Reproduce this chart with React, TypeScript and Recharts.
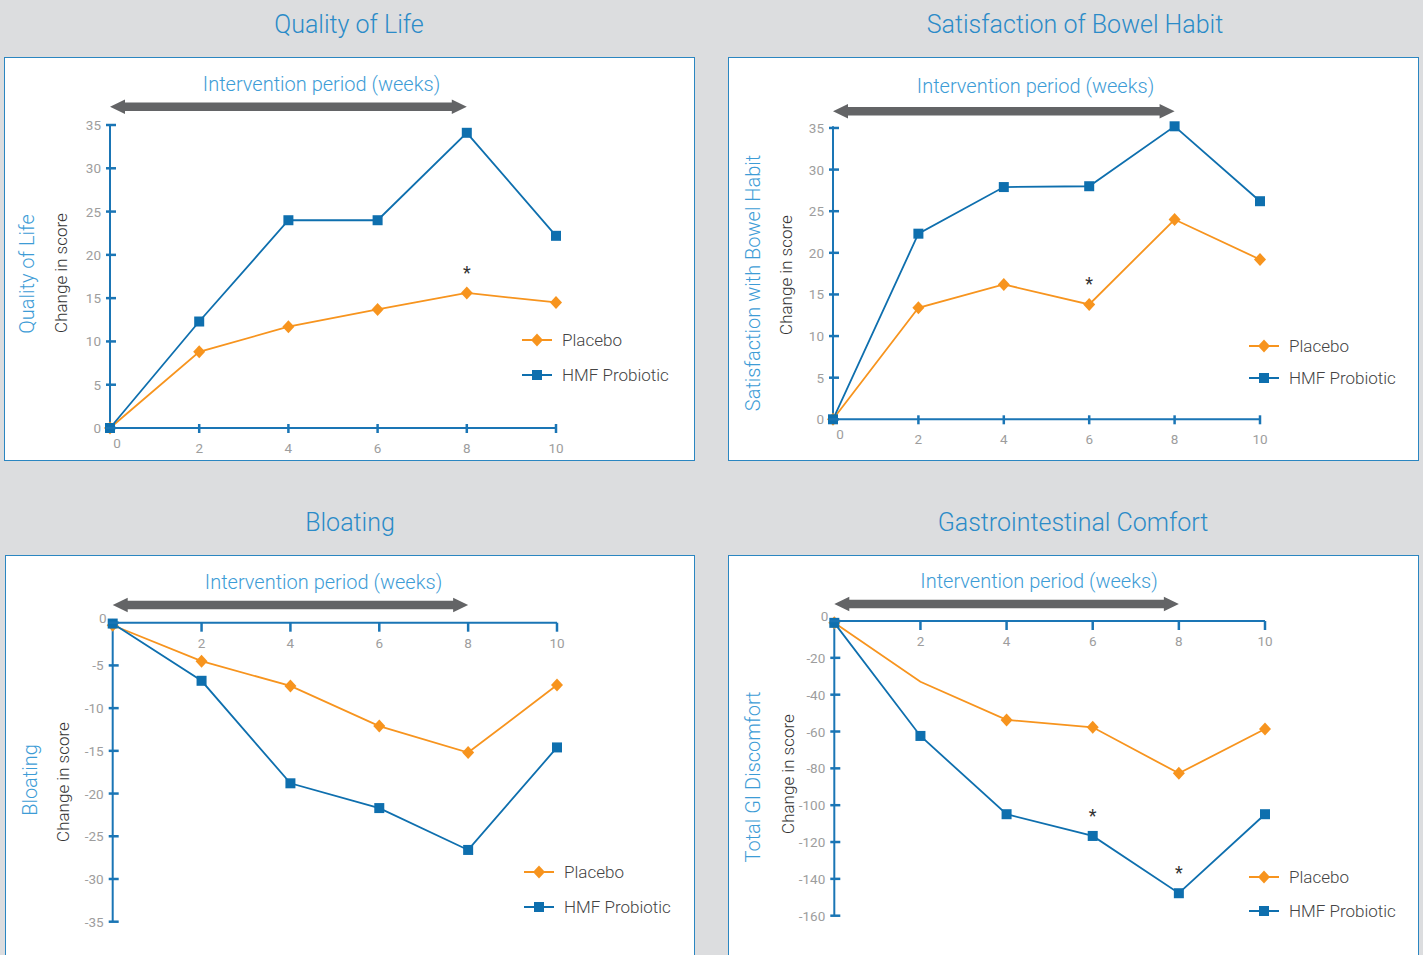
import React from 'react';
import { LineChart, Line, XAxis, YAxis, ReferenceLine, ReferenceDot, Legend } from 'recharts';

// weeks of the study
const weeks = [0, 2, 4, 6, 8, 10];

// Quality of Life
const qolPlacebo = [0, 8.8, 11.7, 13.7, 15.6, 14.5];
const qolHmf = [0, 12.3, 24.0, 24.0, 34.1, 22.2];
const qolTicks = [0, 5, 10, 15, 20, 25, 30, 35];
const qolStarWeeks = [8];

// Satisfaction of Bowel Habit
const bowelPlacebo = [0, 13.4, 16.2, 13.8, 24.0, 19.2];
const bowelHmf = [0, 22.3, 27.9, 28.0, 35.2, 26.2];
const bowelTicks = [0, 5, 10, 15, 20, 25, 30, 35];
const bowelStarWeeks = [6];

// Bloating
const bloatPlacebo = [-0.3, -4.5, -7.4, -12.1, -15.2, -7.3];
const bloatHmf = [-0.1, -6.8, -18.8, -21.7, -26.6, -14.6];
const bloatTicks = [0, -5, -10, -15, -20, -25, -30, -35];

// Gastrointestinal Comfort
const giPlacebo = [-1, -33, -53.7, -57.7, -82.7, -58.6];
const giHmf = [-1, -62.4, -104.9, -116.7, -147.8, -104.9];
const giTicks = [0, -20, -40, -60, -80, -100, -120, -140, -160];
const giStarWeeks = [6, 8];

const periodWeeks = [0, 8];
const seriesOrder = ['placebo', 'hmf'];
const seriesNames = { placebo: 'Placebo', hmf: 'HMF Probiotic' };

const FONT = 'Roboto, "Noto Sans", sans-serif';
const BG = '#dcdddf';
const BORDER = '#2b86c1';
const AXIS = '#1a75b5';
const BLUE = '#0e6fae';
const ORANGE = '#f7941e';
const TITLE = '#2b8bc8';
const LIGHT = '#3d9cd6';
const ARROW = '#636466';
const TICK_TXT = '#9d9d9d';

const Y_W = 40; // y axis box width
const X_H = 30; // x axis box height

type Rect = { l: number; t: number; r: number; b: number };

interface PanelProps {
  title: string;
  yLabel: string;
  placebo: number[];
  hmf: number[];
  yTicks: number[];
  arrowAt: number;
  stars?: { series: 'placebo' | 'hmf'; weeks: number[] };
  hidePlacebo?: number[];
  axisTop?: boolean;
  box: Rect;
  plot: Rect;
  titlePos: [number, number];
  periodPos: [number, number];
  yLabelPos: [number, number];
  changePos: [number, number];
  legendPos: [number, number, number];
}

const arrowShape = (p: any) => {
  const { x1, y1, x2 } = p;
  const h = 7.2, t = 4.3, L = 15;
  const d = `M${x1},${y1} L${x1 + L},${y1 - h} L${x1 + L},${y1 - t} L${x2 - L},${y1 - t} L${x2 - L},${y1 - h} L${x2},${y1} L${x2 - L},${y1 + h} L${x2 - L},${y1 + t} L${x1 + L},${y1 + t} L${x1 + L},${y1 + h} Z`;
  return <path d={d} fill={ARROW} />;
};

const starShape = (p: any) => (
  <text x={p.cx} y={p.cy - 14} textAnchor="middle" fontSize={18} fill="#333" fontFamily={FONT}>*</text>
);

const tickText = (x: number, y: number, v: number, anchor: 'middle' | 'end' = 'middle') => (
  <text x={x} y={y} textAnchor={anchor} dominantBaseline="central" fontSize={13.5} fill={TICK_TXT} fontFamily={FONT}>{v}</text>
);

const makeXTick = (axisTop: boolean) => (p: any) => {
  const { x, y, payload } = p;
  const v = payload.value;
  if (axisTop) {
    if (v === 0) return <g />;
    return (
      <g>
        <line x1={x} x2={x} y1={y} y2={y + 9} stroke={AXIS} strokeWidth={2.5} />
        {tickText(x, y + 20, v)}
      </g>
    );
  }
  if (v === 0) return tickText(x + 7, y + 15, v);
  return (
    <g>
      <line x1={x} x2={x} y1={y - 4} y2={y + 5} stroke={AXIS} strokeWidth={2.5} />
      {tickText(x, y + 20, v)}
    </g>
  );
};

const makeYTick = (axisTop: boolean) => (p: any) => {
  const { x, y, payload } = p;
  const v = payload.value;
  const shift = axisTop && v === 0;
  return (
    <g>
      <line x1={x - 4} x2={x + 6} y1={y} y2={y} stroke={AXIS} strokeWidth={2.5} />
      {tickText(shift ? x - 6 : x - 9, shift ? y - 5 : y, v, 'end')}
    </g>
  );
};

const makeDiamond = (hide: number[]) => (p: any) => {
  const { cx, cy, index } = p;
  if (hide.includes(index) || cx == null) return <g key={`d${index}`} />;
  return <path key={`d${index}`} d={`M${cx},${cy - 6.5}L${cx + 6},${cy}L${cx},${cy + 6.5}L${cx - 6},${cy}Z`} fill={ORANGE} />;
};

const square = (p: any) => (
  <rect key={`s${p.index}`} x={p.cx - 5} y={p.cy - 5} width={10} height={10} fill={BLUE} />
);

const makeLegend = (gap: number) => (props: any) => {
  const items = [...(props.payload || [])].sort(
    (a: any, b: any) => seriesOrder.indexOf(a.dataKey) - seriesOrder.indexOf(b.dataKey)
  );
  return (
    <div style={{ fontFamily: FONT }}>
      {items.map((e: any) => (
        <div key={e.value} style={{ display: 'flex', alignItems: 'center', height: gap }}>
          <svg width={30} height={14} style={{ display: 'block' }}>
            <line x1={0} y1={7} x2={30} y2={7} stroke={e.color} strokeWidth={2} />
            {e.dataKey === 'placebo'
              ? <path d="M15,0.5L21,7L15,13.5L9,7Z" fill={ORANGE} />
              : <rect x={10} y={2} width={10} height={10} fill={BLUE} />}
          </svg>
          <span style={{ marginLeft: 10, fontSize: 17, fontWeight: 300, color: '#444', whiteSpace: 'nowrap' }}>{e.value}</span>
        </div>
      ))}
    </div>
  );
};

const centered = (pos: [number, number], extra: React.CSSProperties, rotate = false): React.CSSProperties => ({
  position: 'absolute',
  left: pos[0],
  top: pos[1],
  transform: `translate(-50%, -50%)${rotate ? ' rotate(-90deg)' : ''}`,
  whiteSpace: 'nowrap',
  fontFamily: FONT,
  lineHeight: 1,
  ...extra,
});

function Panel(props: PanelProps) {
  const { box, plot, axisTop = false, stars, hidePlacebo = [] } = props;
  const data = weeks.map((w, i) => ({ week: w, placebo: props.placebo[i], hmf: props.hmf[i] }));
  const w = box.r - box.l;
  const h = box.b - box.t;
  const yMin = Math.min(...props.yTicks);
  const yMax = Math.max(...props.yTicks);
  const gap = props.legendPos[2];
  const margin = {
    left: plot.l - box.l - Y_W,
    right: box.r - plot.r,
    top: plot.t - box.t - (axisTop ? X_H : 0),
    bottom: box.b - plot.b - (axisTop ? 0 : X_H),
  };

  return (
    <>
      <div style={centered(props.titlePos, { fontSize: 25, color: TITLE, fontWeight: 300 })}>{props.title}</div>
      <div style={{ position: 'absolute', left: box.l, top: box.t, width: w, height: h, boxSizing: 'border-box', border: `1.5px solid ${BORDER}`, background: '#fff' }} />
      <div style={centered(props.periodPos, { fontSize: 20, fontWeight: 300, color: LIGHT })}>Intervention period (weeks)</div>
      <div style={centered(props.yLabelPos, { fontSize: 20, fontWeight: 300, color: LIGHT }, true)}>{props.yLabel}</div>
      <div style={centered(props.changePos, { fontSize: 17, fontWeight: 300, color: '#333' }, true)}>Change in score</div>
      <div style={{ position: 'absolute', left: box.l, top: box.t }}>
        <LineChart width={w} height={h} data={data} margin={margin}>
          <XAxis
            dataKey="week"
            type="number"
            domain={[0, 10]}
            ticks={weeks}
            interval={0}
            orientation={axisTop ? 'top' : 'bottom'}
            height={X_H}
            tickSize={0}
            tickMargin={0}
            axisLine={{ stroke: AXIS, strokeWidth: 2 }}
            tick={makeXTick(axisTop)}
          />
          <YAxis
            type="number"
            domain={[yMin, yMax]}
            ticks={props.yTicks}
            interval={0}
            width={Y_W}
            tickSize={0}
            tickMargin={0}
            axisLine={{ stroke: AXIS, strokeWidth: 2 }}
            tick={makeYTick(axisTop)}
          />
          <ReferenceLine
            segment={[{ x: periodWeeks[0], y: props.arrowAt }, { x: periodWeeks[1], y: props.arrowAt }]}
            ifOverflow="visible"
            shape={arrowShape}
          />
          <Line
            dataKey="placebo"
            name={seriesNames.placebo}
            stroke={ORANGE}
            strokeWidth={1.8}
            dot={makeDiamond(hidePlacebo)}
            activeDot={false}
            isAnimationActive={false}
          />
          <Line
            dataKey="hmf"
            name={seriesNames.hmf}
            stroke={BLUE}
            strokeWidth={1.8}
            dot={square}
            activeDot={false}
            isAnimationActive={false}
          />
          {stars && stars.weeks.map((wk) => {
            const src = stars.series === 'placebo' ? props.placebo : props.hmf;
            return (
              <ReferenceDot
                key={wk}
                x={wk}
                y={src[weeks.indexOf(wk)]}
                ifOverflow="visible"
                shape={starShape}
              />
            );
          })}
          <Legend
            layout="vertical"
            align="center"
            verticalAlign="middle"
            wrapperStyle={{ left: props.legendPos[0] - box.l, top: props.legendPos[1] - gap / 2 - box.t, width: 170 }}
            content={makeLegend(gap)}
          />
        </LineChart>
      </div>
    </>
  );
}

export default function App() {
  return (
    <div style={{ position: 'absolute', left: 0, top: 0, width: 1423, height: 955, background: BG, overflow: 'hidden', fontFamily: FONT }}>
      <Panel
        title="Quality of Life"
        yLabel="Quality of Life"
        placebo={qolPlacebo}
        hmf={qolHmf}
        yTicks={qolTicks}
        arrowAt={37.1}
        stars={{ series: 'placebo', weeks: qolStarWeeks }}
        box={{ l: 4, t: 57, r: 695, b: 461 }}
        plot={{ l: 110, t: 125, r: 556, b: 428 }}
        titlePos={[349, 24]}
        periodPos={[321.5, 84]}
        yLabelPos={[27, 274]}
        changePos={[61, 273]}
        legendPos={[522, 340, 35]}
      />
      <Panel
        title="Satisfaction of Bowel Habit"
        yLabel="Satisfaction with Bowel Habit"
        placebo={bowelPlacebo}
        hmf={bowelHmf}
        yTicks={bowelTicks}
        arrowAt={37.0}
        stars={{ series: 'placebo', weeks: bowelStarWeeks }}
        box={{ l: 728, t: 57, r: 1419, b: 461 }}
        plot={{ l: 833, t: 126.3, r: 1260, b: 419.3 }}
        titlePos={[1075, 24]}
        periodPos={[1035.5, 86]}
        yLabelPos={[752.5, 283]}
        changePos={[786, 275]}
        legendPos={[1249, 345.7, 32]}
      />
      <Panel
        title="Bloating"
        yLabel="Bloating"
        placebo={bloatPlacebo}
        hmf={bloatHmf}
        yTicks={bloatTicks}
        arrowAt={2.07}
        axisTop
        box={{ l: 5, t: 555, r: 695, b: 965 }}
        plot={{ l: 112.7, t: 622.7, r: 557, b: 921.7 }}
        titlePos={[350, 522]}
        periodPos={[323.5, 582]}
        yLabelPos={[30, 780]}
        changePos={[62.5, 781.7]}
        legendPos={[524, 872.3, 35]}
      />
      <Panel
        title="Gastrointestinal Comfort"
        yLabel="Total GI Discomfort"
        placebo={giPlacebo}
        hmf={giHmf}
        yTicks={giTicks}
        arrowAt={9.2}
        axisTop
        stars={{ series: 'hmf', weeks: giStarWeeks }}
        hidePlacebo={[1]}
        box={{ l: 728, t: 555, r: 1419, b: 965 }}
        plot={{ l: 834.3, t: 621, r: 1265, b: 915.7 }}
        titlePos={[1073, 522]}
        periodPos={[1039, 581]}
        yLabelPos={[753.3, 776.7]}
        changePos={[787.5, 774.2]}
        legendPos={[1249, 876.7, 34]}
      />
    </div>
  );
}
